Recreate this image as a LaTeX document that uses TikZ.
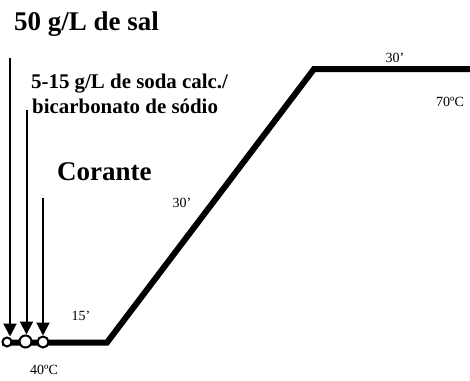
\documentclass[tikz,border=0pt]{standalone}
\usepackage{fontspec}
\setmainfont{Liberation Serif}
\usetikzlibrary{arrows.meta}
\begin{document}
\begin{tikzpicture}[x=1pt,y=-1pt,
  big/.style={anchor=base west,inner sep=0pt,font=\bfseries\fontsize{27}{30}\selectfont},
  mid/.style={anchor=base west,inner sep=0pt,font=\bfseries\fontsize{20.9}{24}\selectfont},
  small/.style={inner sep=0pt,font=\fontsize{14}{16}\selectfont},
  profile/.style={line width=6pt,line join=miter},
  addarrow/.style={line width=2pt,-{Triangle[width=13pt,length=13pt]}},
  dot/.style={circle,draw,line width=2pt,fill=white,inner sep=0pt}]
\useasboundingbox (0,0) rectangle (470,380);
% temperature profile
\coordinate (p0) at (2,342.5);
\coordinate (p1) at (107,342.5);
\coordinate (p2) at (314,69);
\coordinate (p3) at (470,69);
\draw[profile] (p0) -- (p1) -- (p2) -- (p3);
% addition points
\node[dot,minimum width=9pt,minimum height=9pt] (c1) at (7,342) {};
\node[dot,minimum width=10pt,minimum height=12pt] (c2) at (25.5,341.5) {};
\node[dot,minimum width=11pt,minimum height=11pt] (c3) at (43,342) {};
% arrow starts
\coordinate (s1) at (10,58);
\coordinate (s2) at (26.5,110);
\coordinate (s3) at (43,198);
\draw[addarrow] (s1) -- (s1 |- c1.north);
\draw[addarrow] (s2) -- (s2 |- c2.north);
\draw[addarrow] (s3) -- (s3 |- c3.north);
% texts
\node[big] (t1) at (14,30) {50 g/L de sal};
\node[mid] (t2) at (31,88) {5-15 g/L de soda calc./};
\node[mid] (t3) at (32,113) {bicarbonato de sódio};
\node[big] (t4) at (57,180) {Corante};
\node[small] (l1) at (81,316) {15’};
\node[small] (l2) at (44,370) {40ºC};
\node[small] (l3) at (182,203) {30’};
\node[small] (l4) at (395,58) {30’};
\node[small] (l5) at (450,102) {70ºC};
\end{tikzpicture}
\end{document}
